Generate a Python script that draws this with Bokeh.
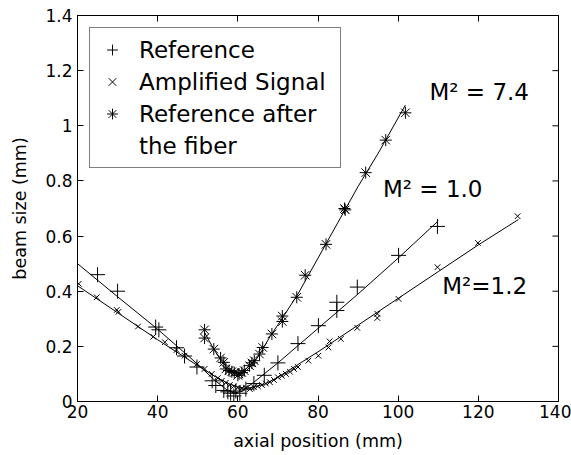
from bokeh.plotting import figure
from bokeh.models import LinearAxis, Label, FixedTicker, CustomLabelingPolicy, Legend, LegendItem
from bokeh.embed import file_html
from bokeh.resources import INLINE

# ---- data ----
x_ticks = [20, 40, 60, 80, 100, 120, 140]
y_ticks = [0, 0.2, 0.4, 0.6, 0.8, 1.0, 1.2, 1.4]
y_tick_labels = ["0", "0.2", "0.4", "0.6", "0.8", "1", "1.2", "1.4"]

ref_x = [25, 30, 39.5, 40.3, 44.7, 46.7, 49.8, 53.6, 54.5, 56.5, 57.5, 58.2, 59, 59.5,
         60.5, 62, 64, 66.6, 70, 75, 80.1, 84.7, 84.7, 89.8, 100.1, 109.8]
ref_y = [0.46, 0.40, 0.27, 0.26, 0.195, 0.165, 0.125, 0.075, 0.058, 0.04, 0.035, 0.03, 0.02, 0.038,
         0.03, 0.045, 0.065, 0.095, 0.14, 0.21, 0.275, 0.36, 0.33, 0.415, 0.53, 0.635]

amp_x = [20.3, 24.8, 29.8, 30.2, 35.1, 38.9, 41.8, 44.7, 46.7, 49.8, 51.7, 53.5, 55, 56, 57, 58,
         59, 60, 61, 62, 63, 64, 65, 66, 67, 68, 69, 70, 71, 72, 73, 74, 75, 77.6, 80.1, 82.6,
         82.9, 85.7, 89.8, 94.8, 94.8, 100.1, 109.8, 119.9, 129.8]
amp_y = [0.427, 0.378, 0.332, 0.325, 0.272, 0.235, 0.215, 0.187, 0.166, 0.136, 0.118, 0.10, 0.085,
         0.075, 0.068, 0.06, 0.055, 0.05, 0.048, 0.05, 0.045, 0.052, 0.055, 0.06, 0.065, 0.07, 0.078,
         0.088, 0.093, 0.10, 0.108, 0.118, 0.125, 0.148, 0.166, 0.196, 0.218, 0.227, 0.267, 0.318,
         0.303, 0.372, 0.487, 0.575, 0.672]

fib_x = [51.7, 51.7, 54, 55.7, 56.5, 57, 57.8, 58.5, 59.1, 60, 60.3, 61, 61.6, 62.9, 63.5, 64.1,
         65.4, 66.2, 68.5, 71.1, 71.1, 74.7, 76.8, 82, 86.6, 86.8, 91.9, 96.9, 101.8]
fib_y = [0.26, 0.23, 0.19, 0.158, 0.142, 0.118, 0.112, 0.108, 0.105, 0.095, 0.10, 0.105, 0.112, 0.13,
         0.14, 0.148, 0.172, 0.196, 0.245, 0.31, 0.29, 0.378, 0.458, 0.57, 0.70, 0.695, 0.83, 0.948,
         1.047]

ref_fit_x = [20, 30, 40, 50, 54, 57, 59, 61, 64, 70, 80, 90, 100, 110]
ref_fit_y = [0.50, 0.38, 0.262, 0.135, 0.08, 0.045, 0.03, 0.037, 0.07, 0.14, 0.265, 0.39, 0.52, 0.655]

amp_fit_x = [20, 30, 40, 50, 55, 58, 60, 62, 64, 67, 70, 80, 90, 100, 110, 120, 130]
amp_fit_y = [0.42, 0.322, 0.224, 0.13, 0.085, 0.063, 0.053, 0.048, 0.052, 0.065, 0.088, 0.18,
             0.277, 0.374, 0.471, 0.568, 0.66]

fib_fit_x = [51.7, 54, 56, 58, 60, 62, 64, 66, 68, 71, 75, 80, 85, 90, 95, 101.8]
fib_fit_y = [0.25, 0.19, 0.145, 0.112, 0.10, 0.11, 0.14, 0.185, 0.235, 0.30, 0.39, 0.52, 0.65,
             0.78, 0.90, 1.075]

annotations = ["M\u00b2 = 7.4", "M\u00b2 = 1.0", "M\u00b2=1.2"]
legend_labels = ["Reference", "Amplified Signal", "Reference after", "the fiber"]

FONT = "DejaVu Sans"
X_MIN, X_MAX, Y_MIN, Y_MAX = 20, 140, 0, 1.4

p = figure(width=571, height=455, x_range=(X_MIN, X_MAX), y_range=(Y_MIN, Y_MAX),
           output_backend="svg", toolbar_location=None,
           min_border_left=77, min_border_right=13, min_border_top=15, min_border_bottom=54)
p.xgrid.visible = False
p.ygrid.visible = False
p.outline_line_color = "black"
p.outline_line_width = 1

no_labels = CustomLabelingPolicy(code="""
    for (const i of Array.from(indices)) { indices.unset(i) }
    return indices
""")

def style_axis(ax, ticks, show_labels=True):
    ax.ticker = FixedTicker(ticks=ticks)
    ax.minor_tick_line_color = None
    ax.major_tick_in = 6
    ax.major_tick_out = 0
    ax.axis_line_color = "black"
    ax.major_tick_line_color = "black"
    ax.major_label_text_font = FONT
    ax.major_label_text_color = "black"
    if show_labels:
        ax.major_label_text_font_size = "17px"
    else:
        ax.major_label_text_font_size = "1px"
        ax.major_label_policy = no_labels
        ax.major_label_standoff = 0

style_axis(p.xaxis[0], x_ticks)
style_axis(p.yaxis[0], y_ticks)
p.xaxis[0].major_label_standoff = 3
p.yaxis[0].major_label_standoff = 5
p.yaxis[0].major_label_overrides = {t: l for t, l in zip(y_ticks, y_tick_labels)}
p.xaxis.axis_label = "axial position (mm)"
p.yaxis.axis_label = "beam size (mm)"
for ax in (p.xaxis[0], p.yaxis[0]):
    ax.axis_label_text_font = FONT
    ax.axis_label_text_font_size = "17.5px"
    ax.axis_label_text_font_style = "normal"
    ax.axis_label_text_color = "black"
p.xaxis[0].axis_label_standoff = 10
p.yaxis[0].axis_label_standoff = 12

top_ax = LinearAxis()
style_axis(top_ax, x_ticks, show_labels=False)
p.add_layout(top_ax, "above")

# inward ticks on the right edge (box style), from the y tick list
tick_len_x = (X_MAX - X_MIN) * 6 / 475
p.segment(x0=[X_MAX] * len(y_ticks), y0=y_ticks, x1=[X_MAX - tick_len_x] * len(y_ticks), y1=y_ticks,
          line_color="black", line_width=1)

# fitted lines
p.line(ref_fit_x, ref_fit_y, line_color="black", line_width=1)
p.line(amp_fit_x, amp_fit_y, line_color="black", line_width=1)
p.line(fib_fit_x, fib_fit_y, line_color="black", line_width=1)

# measured points
r_ref = p.scatter(ref_x, ref_y, marker="cross", size=15, line_color="black", line_width=1,
                  fill_color=None)
r_amp = p.scatter(amp_x, amp_y, marker="x", size=8, line_color="black", line_width=1,
                  fill_color=None)
r_fib = p.scatter(fib_x, fib_y, marker="asterisk", size=12, line_color="black", line_width=1,
                  fill_color=None)
# invisible glyph for the second line of the third legend entry
r_blank = p.scatter([], [], marker="asterisk", size=1, line_alpha=0, fill_alpha=0)

lg = Legend(items=[
    LegendItem(label=legend_labels[0], renderers=[r_ref]),
    LegendItem(label=legend_labels[1], renderers=[r_amp]),
    LegendItem(label=legend_labels[2], renderers=[r_fib]),
    LegendItem(label=legend_labels[3], renderers=[r_blank]),
])
lg.location = "top_left"
lg.margin = 12
lg.padding = 8
lg.spacing = 5
lg.glyph_width = 28
lg.glyph_height = 27
lg.label_height = 27
lg.label_standoff = 13
lg.label_width = 193
lg.label_text_font = FONT
lg.label_text_font_size = "23px"
lg.label_text_color = "black"
lg.border_line_color = "black"
lg.border_line_width = 1
lg.background_fill_alpha = 1.0
p.add_layout(lg, "center")

ann_pos = [(107.8, 1.122), (96.2, 0.772), (111.0, 0.42)]
for txt, (ax_, ay_) in zip(annotations, ann_pos):
    p.add_layout(Label(x=ax_, y=ay_, text=txt, text_font=FONT, text_font_size="23px",
                       text_color="black", text_baseline="alphabetic", text_align="left"))

open("out.html", "w").write(file_html(p, INLINE))
